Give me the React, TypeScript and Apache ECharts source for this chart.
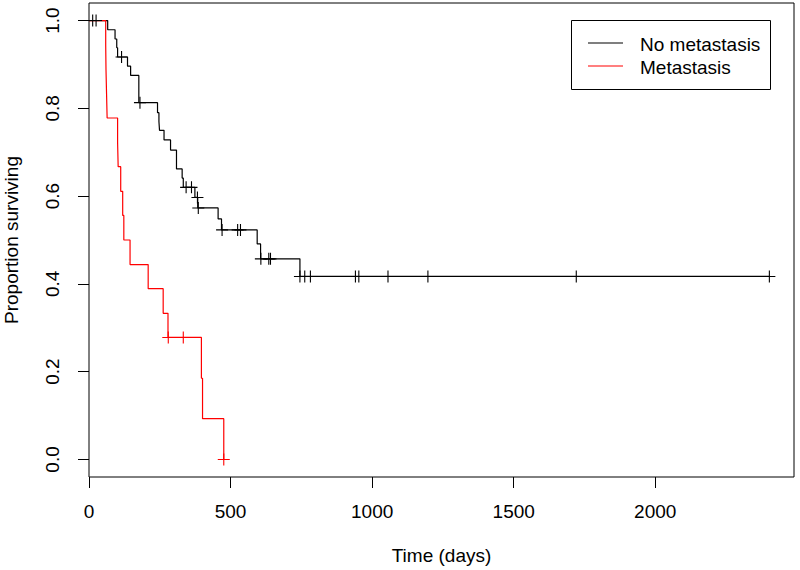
import React, { useEffect, useRef } from "react";
import * as echarts from "echarts";

// Kaplan-Meier step data: time (days) at which survival changes, survival after the change
const noMetTimes = [0, 66, 92, 98, 101, 136, 147, 176, 242, 247, 249, 265, 288, 309, 329, 333, 374, 384, 456, 468, 594, 606, 745, 2403];
const noMetSurv = [1, 0.979, 0.958, 0.938, 0.917, 0.896, 0.875, 0.813, 0.79, 0.77, 0.75, 0.728, 0.705, 0.662, 0.641, 0.62, 0.597, 0.573, 0.548, 0.523, 0.491, 0.457, 0.417, 0.417];
const noMetCensorTimes = [13, 25, 115, 180, 343, 362, 383, 386, 470, 525, 535, 607, 635, 641, 745, 762, 782, 941, 953, 1056, 1197, 1721, 2403];

const metTimes = [0, 59, 60, 62, 64, 101, 103, 112, 119, 123, 145, 209, 262, 279, 397, 401, 476];
const metSurv = [1, 0.944, 0.889, 0.833, 0.778, 0.722, 0.667, 0.611, 0.556, 0.5, 0.444, 0.389, 0.333, 0.278, 0.185, 0.093, 0];
const metCensorTimes = [280, 333, 476];

const xTicks = [0, 500, 1000, 1500, 2000];
const yTicks = [0, 0.2, 0.4, 0.6, 0.8, 1.0];
const groupNames = ["No metastasis", "Metastasis"];
const groupColors = ["#000000", "#ff0000"];

const FONT = "'Liberation Sans', Arial, Helvetica, sans-serif";
const FS = 19;
const PLUS = "path://M5.45 0H6.55V5.45H12V6.55H6.55V12H5.45V6.55H0V5.45H5.45Z";

function survAt(times: number[], surv: number[], t: number) {
  let s = surv[0];
  for (let i = 0; i < times.length; i++) if (times[i] <= t) s = surv[i];
  return s;
}

export default function App() {
  const ref = useRef<HTMLDivElement>(null);
  useEffect(() => {
    if (!ref.current) return;
    const chart = echarts.init(ref.current, null, { renderer: "svg" });
    const stepData = (times: number[], surv: number[]) => times.map((t, i) => [t, surv[i]]);
    const censorData = (ct: number[], times: number[], surv: number[]) => ct.map((t) => [t, survAt(times, surv, t)]);
    chart.setOption({
      animation: false,
      backgroundColor: "#ffffff",
      textStyle: { fontFamily: FONT },
      grid: {
        left: 89, right: 6, top: 3, bottom: 93,
        containLabel: false,
        outerBoundsMode: "none",
        show: true, borderColor: "#000", borderWidth: 1, backgroundColor: "transparent",
      },
      xAxis: {
        type: "value",
        min: 0,
        max: 2490,
        name: "Time (days)",
        nameLocation: "middle",
        nameGap: 69,
        nameMoveOverlap: false,
        nameTextStyle: { fontSize: FS, color: "#000", fontFamily: FONT },
        axisLine: { show: false, onZero: false },
        splitLine: { show: false },
        axisTick: { show: true, inside: false, length: 11, lineStyle: { color: "#000", width: 1 }, customValues: xTicks },
        axisLabel: { fontSize: FS, color: "#000", margin: 25, fontFamily: FONT, customValues: xTicks, formatter: (v: number) => String(v) },
      },
      yAxis: {
        type: "value",
        min: -0.04,
        max: 1.04,
        name: "Proportion surviving",
        nameLocation: "middle",
        nameRotate: 90,
        nameGap: 71,
        nameMoveOverlap: false,
        nameTextStyle: { fontSize: FS, lineHeight: 14, color: "#000", fontFamily: FONT },
        axisLine: { show: false, onZero: false },
        splitLine: { show: false },
        axisTick: { show: true, inside: false, length: 11, lineStyle: { color: "#000", width: 1 }, customValues: yTicks },
        axisLabel: { fontSize: FS, color: "#000", margin: 27, rotate: 90, fontFamily: FONT, customValues: yTicks, formatter: (v: number) => v.toFixed(1) },
      },
      series: [
        {
          name: groupNames[0],
          type: "line",
          step: "end",
          data: stepData(noMetTimes, noMetSurv),
          showSymbol: false,
          symbol: "none",
          lineStyle: { color: groupColors[0], width: 1.2 },
          z: 3,
        },
        {
          name: groupNames[1],
          type: "line",
          step: "end",
          data: stepData(metTimes, metSurv),
          showSymbol: false,
          symbol: "none",
          lineStyle: { color: groupColors[1], width: 1.2 },
          z: 3,
        },
        {
          name: groupNames[0] + " censored",
          type: "scatter",
          symbol: PLUS,
          symbolSize: 12,
          data: censorData(noMetCensorTimes, noMetTimes, noMetSurv),
          itemStyle: { color: groupColors[0], opacity: 1 },
          z: 4,
        },
        {
          name: groupNames[1] + " censored",
          type: "scatter",
          symbol: PLUS,
          symbolSize: 12,
          data: censorData(metCensorTimes, metTimes, metSurv),
          itemStyle: { color: groupColors[1], opacity: 1 },
          z: 4,
        },
      ],
      graphic: [
        {
          type: "group",
          z: 10,
          children: [
            { type: "rect", shape: { x: 571.5, y: 20.5, width: 199, height: 69 }, style: { fill: "#fff", stroke: "#000", lineWidth: 1 } },
            { type: "line", shape: { x1: 588, y1: 43, x2: 623, y2: 43 }, style: { stroke: groupColors[0], lineWidth: 1.2 } },
            { type: "line", shape: { x1: 588, y1: 66, x2: 623, y2: 66 }, style: { stroke: groupColors[1], lineWidth: 1.2 } },
            { type: "text", x: 640, y: 44, style: { text: groupNames[0], font: `${FS}px ${FONT}`, fill: "#000", verticalAlign: "middle" } },
            { type: "text", x: 640, y: 67, style: { text: groupNames[1], font: `${FS}px ${FONT}`, fill: "#000", verticalAlign: "middle" } },
          ],
        },
      ],
    });
    return () => chart.dispose();
  }, []);
  return <div ref={ref} style={{ position: "fixed", left: 0, top: 0, width: 800, height: 570, background: "#fff" }} />;
}
